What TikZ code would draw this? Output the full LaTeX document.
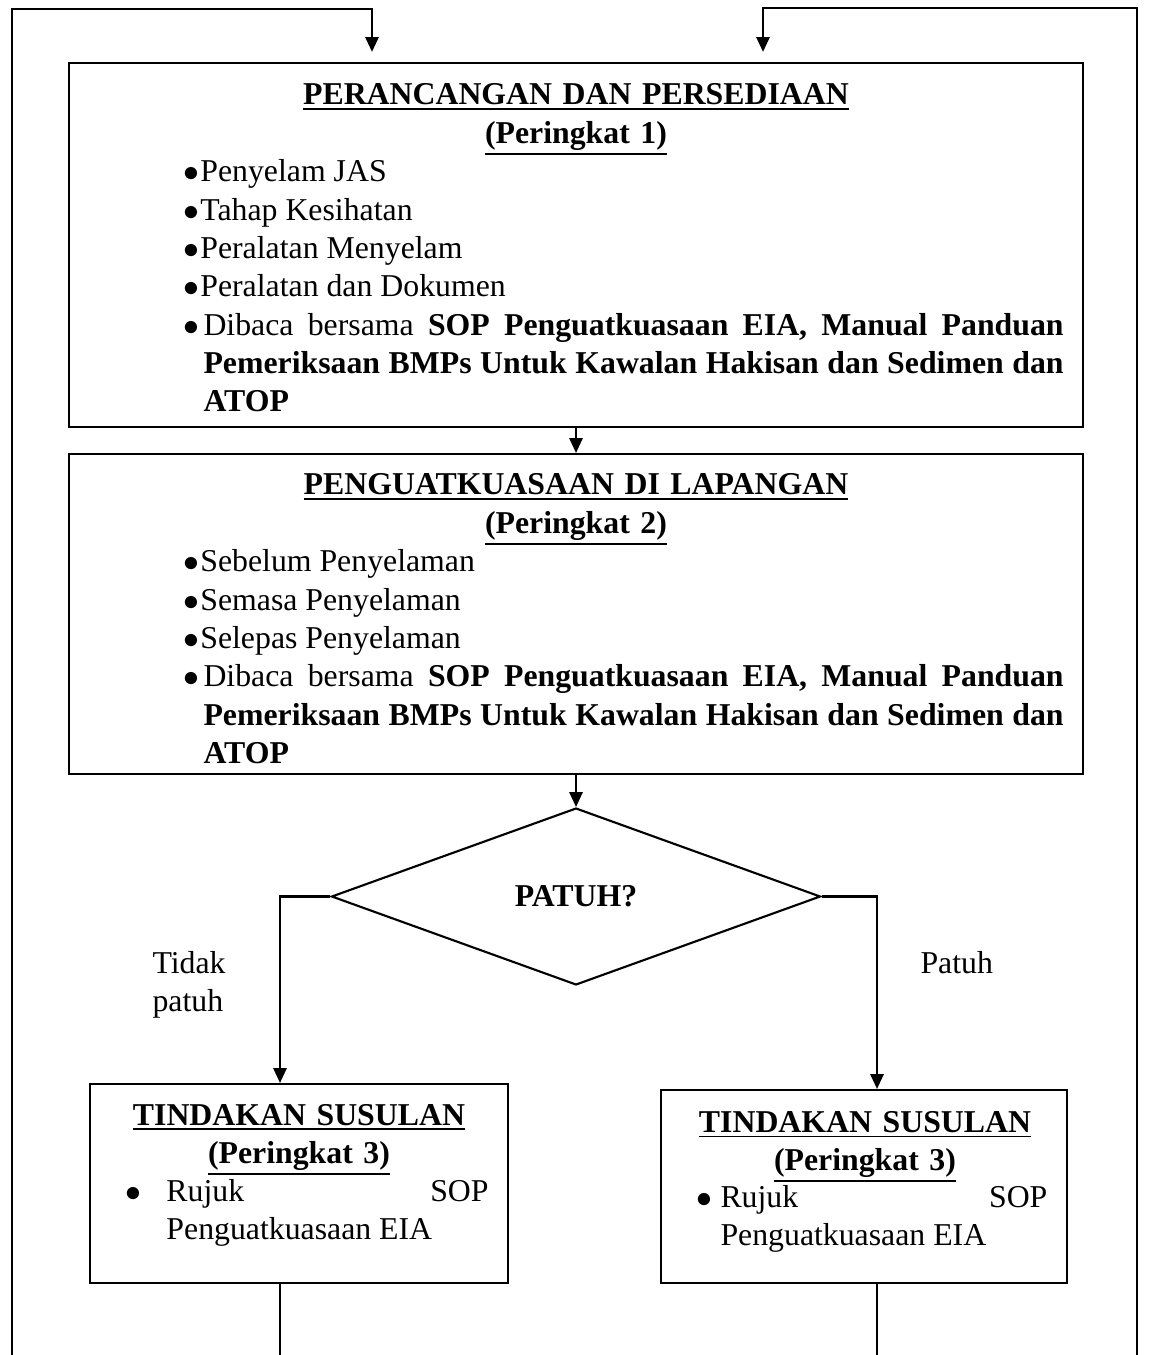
\documentclass[tikz,border=0pt]{standalone}
\usepackage{fontspec}
\setmainfont{Liberation Serif}
\usetikzlibrary{arrows.meta,positioning,fit,shapes.geometric,calc}
\tikzset{
>={Triangle[length=5.6pt,width=5pt]},
  stepbox/.style={
    rectangle,
    draw=black, line width=0.8pt,
    inner sep=0pt},
  decision/.style={
    diamond,
    draw=black, line width=0.8pt,
    inner sep=0pt,
    minimum width=184.6pt,
    minimum height=66.8pt,
    font=\bfseries\fontsize{12}{14.45}\selectfont},
  title/.style={anchor=base, align=center, text width=#1, inner sep=0pt,
    font=\bfseries\fontsize{12}{14.45}\selectfont},
  itemlist/.style={anchor=base west, align=justify, text width=#1, inner sep=0pt},
  line/.style={draw, line width=0.8pt},
  arrow/.style={line, ->},
}
\newcommand{\itembullet}[1][5.6pt]{\makebox[#1][l]{\hspace{-0.6pt}$\bullet$}}
\newcommand{\bacabersama}{\noindent\itembullet[6.8pt]\parbox[t]{324.7pt}{Dibaca bersama
  \textbf{SOP Penguatkuasaan EIA, Manual Panduan\linebreak
  Pemeriksaan BMPs Untuk Kawalan Hakisan dan Sedimen dan\linebreak ATOP}}}

\begin{document}
\begin{tikzpicture}[
    x=0.3775pt, y=-0.3775pt,
    font=\fontsize{12}{14.45}\selectfont,
    every node/.style={color=black}
    ]
    \useasboundingbox (0,0) rectangle (1155,1355);

    %boxes
    \node[stepbox, fit={(69,63) (1083,427)}] (plan) {};
    \node[stepbox, fit={(69,454) (1083,774)}] (enforce) {};
    \node[decision] (patuh) at (576,896.5) {PATUH?};
    \node[stepbox, fit={(90,1084) (508,1283)}] (followL) {};
    \node[stepbox, fit={(661,1090) (1067,1283)}] (followR) {};

    %box texts
    \node[title=330pt] (planT) at (576,105)
        {\underline{PERANCANGAN DAN PERSEDIAAN}\\\underline{(Peringkat 1)}};
    \node[itemlist=332pt] (planL) at (185,182)
        {\itembullet Penyelam JAS\par
         \itembullet Tahap Kesihatan\par
         \itembullet Peralatan Menyelam\par
         \itembullet Peralatan dan Dokumen\par
         \bacabersama};

    \node[title=330pt] (enforceT) at (576,495)
        {\underline{PENGUATKUASAAN DI LAPANGAN}\\\underline{(Peringkat 2)}};
    \node[itemlist=332pt] (enforceL) at (185,572)
        {\itembullet Sebelum Penyelaman\par
         \itembullet Semasa Penyelaman\par
         \itembullet Selepas Penyelaman\par
         \bacabersama};

    \node[title=150pt] (followLT) at (299,1125)
        {\underline{TINDAKAN SUSULAN}\\\underline{(Peringkat 3)}};
    \node[itemlist=136.3pt] (followLL) at (127,1201)
        {\noindent\itembullet[14.7pt]\parbox[t]{121.6pt}{Rujuk SOP\linebreak Penguatkuasaan EIA}};

    \node[title=150pt] (followRT) at (865,1132)
        {\underline{TINDAKAN SUSULAN}\\\underline{(Peringkat 3)}};
    \node[itemlist=131.7pt] (followRL) at (698,1207)
        {\noindent\itembullet[8.3pt]\parbox[t]{123.4pt}{Rujuk SOP\linebreak Penguatkuasaan EIA}};

    %branch labels
    \node[anchor=base west, align=left, text width=40pt, inner sep=0pt] (nolabel) at (152,973) {Tidak\\patuh};
    \node[anchor=base west, inner sep=0pt] (yeslabel) at (920,973) {Patuh};

    %connectors
    \coordinate (loopL) at (12,1355);
    \coordinate (loopR) at (1137,1355);
    \coordinate (inL) at (372,9);
    \coordinate (inR) at (763,8);
    \coordinate (endL) at (280,1355);
    \coordinate (endR) at (877,1355);

    \draw[arrow, shorten >=3.8pt] (loopL) |- (inL) -- (inL |- plan.north);
    \draw[arrow, shorten >=3.8pt] (loopR) |- (inR) -- (inR |- plan.north);
    \draw[arrow] (plan.south) -- (enforce.north);
    \draw[arrow] (enforce.south) -- (patuh.north);
    \draw[arrow] (patuh.west) -| (followL.north -| endL);
    \draw[arrow] (patuh.east) -| (followR.north -| endR);
    \draw[line] (followL.south -| endL) -- (endL);
    \draw[line] (followR.south -| endR) -- (endR);

\end{tikzpicture}
\end{document}
